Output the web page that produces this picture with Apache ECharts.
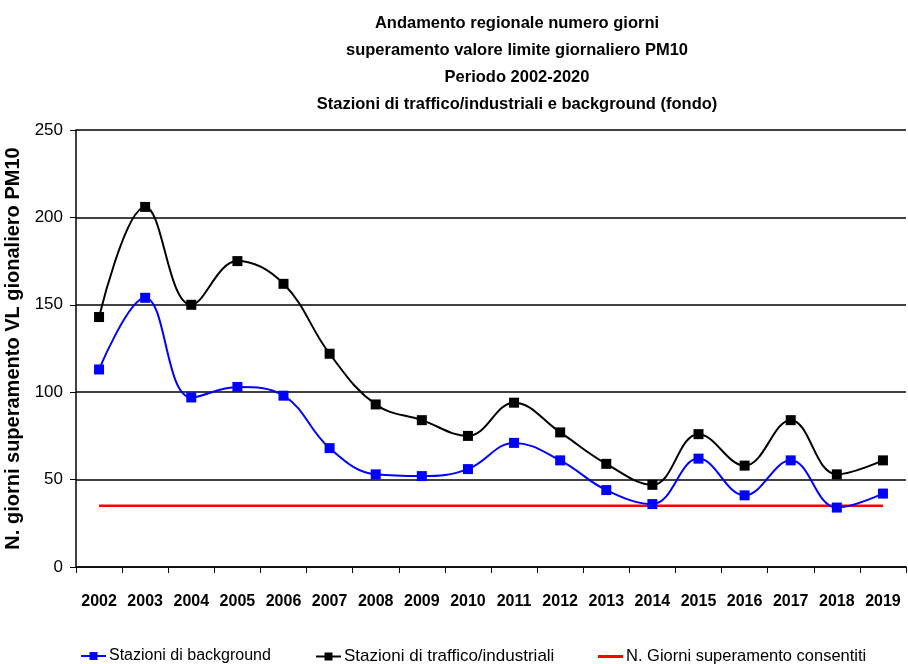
<!DOCTYPE html>
<html>
<head>
<meta charset="utf-8">
<script src="https://cdn.jsdelivr.net/npm/echarts@6/dist/echarts.min.js"></script>
<style>
  html, body { margin: 0; padding: 0; background: #fff; }
  #chart { width: 908px; height: 664px; }
</style>
</head>
<body>
<div id="chart"></div>
<script>
const years = ["2002", "2003", "2004", "2005", "2006", "2007", "2008", "2009", "2010", "2011",
  "2012", "2013", "2014", "2015", "2016", "2017", "2018", "2019"];
const background = [113, 154, 97, 103, 98, 68, 53, 52, 56, 71, 61, 44, 36, 62, 41, 61, 34, 42];
const traffico = [143, 206, 150, 175, 162, 122, 93, 84, 75, 94, 77, 59, 47, 76, 58, 84, 53, 61];
const consentiti = [35, 35, 35, 35, 35, 35, 35, 35, 35, 35, 35, 35, 35, 35, 35, 35, 35, 35];

const chart = echarts.init(document.getElementById("chart"));

const sans = "'Liberation Sans', Arial, sans-serif";

// one legend per item so each can sit where the original puts it
const legendItem = (name, left, fontSize, icon, itemHeight) => ({
  top: 643,
  left: left,
  itemWidth: 25,
  itemHeight: itemHeight || 10,
  itemGap: 4,
  icon: icon,
  textStyle: { fontFamily: sans, fontSize: fontSize, color: "#000", padding: [0, 0, 0, -2] },
  data: [name]
});

const option = {
  animation: false,
  backgroundColor: "#fff",
  title: {
    text: "Andamento regionale numero giorni\nsuperamento valore limite giornaliero PM10\nPeriodo 2002-2020\nStazioni di traffico/industriali e background (fondo)",
    left: 512,
    textAlign: "center",
    top: 5,
    textStyle: {
      fontFamily: sans,
      fontSize: 16.5,
      fontWeight: "bold",
      lineHeight: 27,
      color: "#000"
    }
  },
  legend: [
    legendItem("Stazioni di background", 75, 16),
    legendItem("Stazioni di traffico/industriali", 310, 17),
    legendItem("N. Giorni superamento consentiti", 593, 16.5, "rect", 3)
  ],
  grid: { left: 76, right: 2, top: 130, bottom: 97, outerBoundsMode: "none" },
  xAxis: {
    type: "category",
    data: years,
    boundaryGap: true,
    axisLine: { lineStyle: { color: "#000", width: 1.5 } },
    axisTick: { show: true, length: 6, lineStyle: { color: "#000" } },
    axisLabel: { interval: 0, margin: 27, fontFamily: sans, fontSize: 16, fontWeight: "bold", color: "#000" }
  },
  yAxis: {
    type: "value",
    min: 0,
    max: 250,
    interval: 50,
    name: "N. giorni superamento VL gionaliero PM10",
    nameLocation: "middle",
    nameGap: 48,
    nameTextStyle: { fontFamily: sans, fontSize: 20, fontWeight: "bold", color: "#000" },
    axisLine: { show: true, lineStyle: { color: "#000", width: 1.5 } },
    axisTick: { show: true, length: 6, lineStyle: { color: "#000" } },
    axisLabel: { margin: 13, fontFamily: sans, fontSize: 17, color: "#000" },
    splitLine: { lineStyle: { color: "#000", width: 1.5 } }
  },
  series: [
    {
      name: "Stazioni di background",
      type: "line",
      data: background,
      smooth: 0.4,
      symbol: "rect",
      symbolSize: 10,
      color: "#0000ff",
      lineStyle: { width: 2, color: "#0000ff" },
      itemStyle: { color: "#0000ff" },
      z: 3
    },
    {
      name: "Stazioni di traffico/industriali",
      type: "line",
      data: traffico,
      smooth: 0.4,
      symbol: "rect",
      symbolSize: 10,
      color: "#000",
      lineStyle: { width: 2, color: "#000" },
      itemStyle: { color: "#000" },
      z: 3
    },
    {
      name: "N. Giorni superamento consentiti",
      type: "line",
      data: consentiti,
      symbol: "none",
      color: "#ff0000",
      lineStyle: { width: 2.5, color: "#ff0000" },
      itemStyle: { color: "#ff0000" },
      z: 2
    }
  ]
};

chart.setOption(option);
</script>
</body>
</html>
